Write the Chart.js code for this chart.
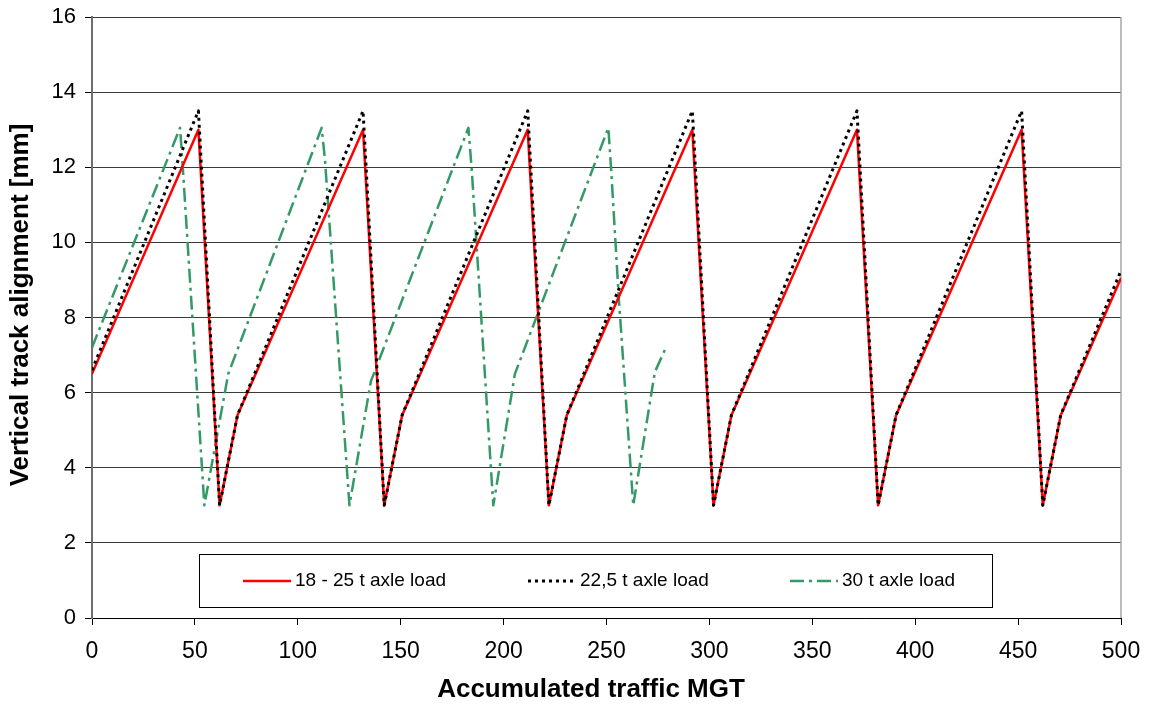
<!DOCTYPE html>
<html>
<head>
<meta charset="utf-8">
<script src="https://cdn.jsdelivr.net/npm/chart.js@4.4.0/dist/chart.umd.min.js"></script>
<style>
  html, body { margin: 0; padding: 0; background: #ffffff; }
  #c { display: block; }
</style>
</head>
<body>
<canvas id="c" width="1149" height="709"></canvas>
<script>
// Accumulated traffic [MGT] and vertical track alignment [mm] for each axle-load scenario
const mgtLow   = [0, 51.7, 62, 70.7, 131.7, 142, 150.7, 211.7, 222, 230.7, 291.7, 302, 310.7, 371.7, 382, 390.7, 451.7, 462, 470.7, 500];
const alignLow = [6.5, 13.0, 3.0, 5.4, 13.0, 3.0, 5.4, 13.0, 3.0, 5.4, 13.0, 3.0, 5.4, 13.0, 3.0, 5.4, 13.0, 3.0, 5.4, 9.05];

const mgtMid   = [0, 51.7, 52.2, 62, 70.7, 131.7, 132.2, 142, 150.7, 211.7, 212.2, 222, 230.7, 291.7, 292.2, 302, 310.7, 371.7, 372.2, 382, 390.7, 451.7, 452.2, 462, 470.7, 500];
const alignMid = [6.6, 13.5, 13.0, 3.0, 5.4, 13.5, 13.0, 3.0, 5.4, 13.5, 13.0, 3.0, 5.4, 13.5, 13.0, 3.0, 5.4, 13.5, 13.0, 3.0, 5.4, 13.5, 13.0, 3.0, 5.4, 9.25];

const mgtHigh   = [0, 42.8, 44.4, 54.6, 66.2, 111.6, 113.2, 125.1, 135.5, 182.9, 184.5, 195.0, 205.5, 250.9, 252.3, 256.0, 263.0, 273.5, 279.3];
const alignHigh = [7.2, 13.05, 11.75, 3.0, 6.5, 13.05, 12.2, 3.0, 6.3, 13.05, 11.95, 3.0, 6.5, 13.05, 11.9, 8.5, 3.0, 6.55, 7.25];

const seriesNames = ['18 - 25 t axle load', '22,5 t axle load', '30 t axle load'];

const xTicks = { min: 0, max: 500, step: 50 };
const yTicks = { min: 0, max: 16, step: 2 };

const xTitle = 'Accumulated traffic MGT';
const yTitle = 'Vertical track alignment [mm]';

const FONT = '"Liberation Sans", Arial, Helvetica, sans-serif';

function pairs(xs, ys) {
  return xs.map((x, i) => ({ x: x, y: ys[i] }));
}

// Axis captions, placed beside the plot area
const axisCaptions = {
  id: 'axisCaptions',
  afterDraw(chart) {
    const { ctx, chartArea } = chart;
    ctx.save();
    ctx.fillStyle = '#000000';
    ctx.font = 'bold 26px ' + FONT;
    ctx.textAlign = 'center';
    ctx.textBaseline = 'middle';
    ctx.fillText(xTitle, chartArea.left + 499, chartArea.bottom + 72);
    ctx.translate(21, chartArea.top + 288);
    ctx.rotate(-Math.PI / 2);
    ctx.fillText(yTitle, 0, 0);
    ctx.restore();
  }
};

// Legend drawn as a framed box inside the plot area
const legendBox = {
  id: 'legendBox',
  afterDatasetsDraw(chart) {
    const { ctx, chartArea } = chart;
    const left = chartArea.left + 107;
    const top = chartArea.top + 537;
    const width = 793;
    const height = 53;
    ctx.save();
    ctx.fillStyle = '#ffffff';
    ctx.fillRect(left, top, width, height);
    ctx.strokeStyle = '#000000';
    ctx.lineWidth = 1;
    ctx.strokeRect(left + 0.5, top + 0.5, width, height);

    const sampleStarts = [44, 329, 591];
    const sampleLen = 48;
    const cy = top + 27;
    ctx.font = '19px ' + FONT;
    ctx.textBaseline = 'middle';
    ctx.fillStyle = '#000000';
    chart.data.datasets.forEach((ds, i) => {
      const sx = left + sampleStarts[i];
      ctx.save();
      ctx.strokeStyle = ds.borderColor;
      ctx.lineWidth = ds.borderWidth;
      ctx.setLineDash(ds.borderDash || []);
      ctx.lineCap = 'butt';
      ctx.beginPath();
      ctx.moveTo(sx, cy);
      ctx.lineTo(sx + sampleLen, cy);
      ctx.stroke();
      ctx.restore();
      ctx.fillText(ds.label, sx + sampleLen + 4, cy);
    });
    ctx.restore();
  }
};

// Thin frame line on the right edge of the plot area
const rightFrame = {
  id: 'rightFrame',
  beforeDatasetsDraw(chart) {
    const { ctx, chartArea } = chart;
    ctx.save();
    ctx.strokeStyle = '#a6a6a6';
    ctx.lineWidth = 1.5;
    ctx.beginPath();
    ctx.moveTo(chartArea.right, chartArea.top);
    ctx.lineTo(chartArea.right, chartArea.bottom);
    ctx.stroke();
    ctx.restore();
  }
};

new Chart(document.getElementById('c'), {
  type: 'line',
  data: {
    datasets: [
      {
        label: seriesNames[0],
        data: pairs(mgtLow, alignLow),
        borderColor: '#ff0000',
        borderWidth: 2.5,
        order: 1
      },
      {
        label: seriesNames[1],
        data: pairs(mgtMid, alignMid),
        borderColor: '#000000',
        borderWidth: 3,
        borderDash: [3, 4],
        order: 0
      },
      {
        label: seriesNames[2],
        data: pairs(mgtHigh, alignHigh),
        borderColor: '#339966',
        borderWidth: 2.5,
        borderDash: [14, 5, 3, 5],
        order: 2
      }
    ]
  },
  options: {
    responsive: false,
    devicePixelRatio: 1,
    animation: false,
    elements: {
      point: { radius: 0, hoverRadius: 0 },
      line: { tension: 0, fill: false, borderCapStyle: 'butt', borderJoinStyle: 'round' }
    },
    layout: { padding: { top: 17, right: 28, left: 0, bottom: 0 } },
    plugins: {
      legend: { display: false },
      tooltip: { enabled: false },
      title: { display: false }
    },
    scales: {
      x: {
        type: 'linear',
        min: xTicks.min,
        max: xTicks.max,
        ticks: {
          stepSize: xTicks.step,
          color: '#000000',
          font: { family: FONT, size: 23, lineHeight: 1.72 },
          padding: 7,
          maxRotation: 0,
          autoSkip: false
        },
        grid: { drawOnChartArea: false, drawTicks: true, tickLength: 7, tickColor: '#000000' },
        border: { display: true, color: '#000000', width: 1 },
        afterFit(scale) { scale.height = 91; }
      },
      y: {
        type: 'linear',
        min: yTicks.min,
        max: yTicks.max,
        ticks: {
          stepSize: yTicks.step,
          color: '#000000',
          font: { family: FONT, size: 22, lineHeight: 0.6 },
          padding: 9
        },
        grid: { color: '#3a3a3a', lineWidth: 1, drawTicks: true, tickLength: 7, tickColor: '#000000' },
        border: { display: true, color: '#6e6e6e', width: 2 },
        afterFit(scale) { scale.width = 92; }
      }
    }
  },
  plugins: [rightFrame, legendBox, axisCaptions]
});
</script>
</body>
</html>
